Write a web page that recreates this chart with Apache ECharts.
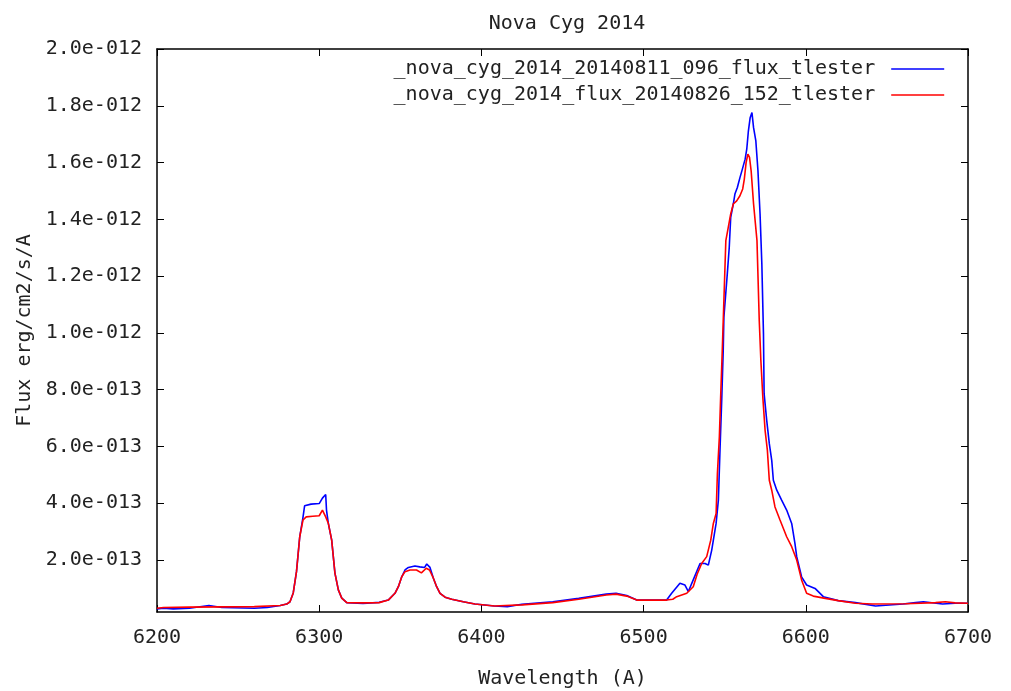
<!DOCTYPE html>
<html>
<head>
<meta charset="utf-8">
<title>Nova Cyg 2014</title>
<script src="https://cdn.jsdelivr.net/npm/echarts@6/dist/echarts.min.js"></script>
<style>
  html, body { margin: 0; padding: 0; background: #fff; }
  #chart { width: 1011px; height: 691px; }
</style>
</head>
<body>
<div id="chart"></div>
<script>
// Flux values are given in units of 1e-13 erg/cm2/s/A.
const FLUX_UNIT = 1e-13;

const seriesNames = [
  '_nova_cyg_2014_20140811_096_flux_tlester',
  '_nova_cyg_2014_flux_20140826_152_tlester'
];

// Spectrum of 2014-08-11
const wave0811 = [
  6200, 6204, 6210, 6220, 6232, 6240, 6260, 6268, 6276, 6280,
  6282, 6284, 6286, 6288, 6290, 6291, 6295, 6300, 6302, 6304,
  6304.5, 6305.6, 6307.7, 6309.7, 6311.8, 6313.9, 6317, 6327, 6337, 6342.6,
  6346.7, 6348.8, 6350.9, 6352.9, 6355, 6359, 6362, 6365, 6366.3, 6368.3,
  6370.4, 6372.4, 6374.5, 6377.6, 6381.7, 6388.8, 6396, 6408, 6416, 6425,
  6444, 6460, 6477, 6483, 6489.6, 6495.8, 6514.2, 6517.3, 6522.4, 6525.5,
  6527.6, 6530.6, 6534.8, 6537.9, 6539.9, 6542, 6544.7, 6546.1, 6547.1, 6548.2,
  6549.1, 6549.5, 6551.6, 6552.8, 6553.7, 6555.3, 6556.3, 6557.8, 6559.4, 6560.9,
  6562.6, 6563.6, 6564.6, 6565.7, 6566.8, 6567.8, 6569.2, 6570.5, 6571.8, 6572.9,
  6573.9, 6574.3, 6575.9, 6577.5, 6579, 6580, 6582.1, 6585.1, 6588.2, 6591.3,
  6593.3, 6594.4, 6597.4, 6600.5, 6605.7, 6610.8, 6620, 6630.6, 6643, 6660,
  6667.7, 6672.5, 6684.3, 6692, 6700
];
const flux0811 = [
  0.28, 0.30, 0.28, 0.30, 0.40, 0.33, 0.30, 0.33, 0.40, 0.45,
  0.53, 0.84, 1.59, 2.82, 3.50, 3.91, 3.97, 3.99, 4.18, 4.31,
  3.76, 3.30, 2.70, 1.54, 0.95, 0.66, 0.50, 0.47, 0.51, 0.59,
  0.83, 1.06, 1.41, 1.65, 1.74, 1.79, 1.76, 1.74, 1.86, 1.74,
  1.36, 1.06, 0.83, 0.69, 0.62, 0.53, 0.45, 0.38, 0.36, 0.44,
  0.53, 0.65, 0.80, 0.83, 0.75, 0.59, 0.59, 0.83, 1.18, 1.12,
  0.89, 1.30, 1.88, 1.88, 1.82, 2.35, 3.29, 4.11, 5.87, 7.70,
  9.40, 10.55, 12.08, 13.01, 14.07, 14.54, 14.89, 15.12, 15.47, 15.77,
  16.12, 16.47, 17.11, 17.58, 17.76, 17.23, 16.76, 15.71, 14.19, 12.43,
  9.97, 7.86, 6.92, 6.10, 5.51, 4.81, 4.46, 4.11, 3.76, 3.29,
  2.59, 2.12, 1.41, 1.12, 1.00, 0.71, 0.57, 0.50, 0.38, 0.45,
  0.50, 0.53, 0.45, 0.48, 0.48
];

// Spectrum of 2014-08-26
const wave0826 = [
  6200, 6204, 6220, 6240, 6260, 6276, 6280, 6282, 6284, 6286,
  6288, 6290, 6292, 6296, 6300, 6302, 6304, 6305.6, 6307.7, 6309.7,
  6311.8, 6313.9, 6317, 6327, 6337, 6342.6, 6346.7, 6348.8, 6350.9, 6352.9,
  6356, 6360, 6363, 6366, 6368, 6370.4, 6372.4, 6374.5, 6377.6, 6381.7,
  6388.8, 6396, 6408, 6425, 6444, 6460, 6477, 6483, 6489.6, 6495.8,
  6514.2, 6518, 6520.4, 6526.6, 6530.6, 6533, 6535.8, 6538.9, 6541.4, 6543,
  6544.7, 6545.5, 6546.7, 6547.5, 6548.5, 6549.5, 6550.7, 6552.2, 6553.7, 6555.3,
  6557.4, 6559.4, 6561.1, 6562.1, 6563.2, 6564.3, 6565.3, 6566.3, 6567.8, 6569.9,
  6571.3, 6572.3, 6573.5, 6574.9, 6576.3, 6577.5, 6579, 6581, 6584.1, 6588.2,
  6591.3, 6594.4, 6597.4, 6600.5, 6604.6, 6612, 6620, 6630.6, 6641, 6661.5,
  6680, 6686, 6692, 6700
];
const flux0826 = [
  0.30, 0.33, 0.34, 0.35, 0.36, 0.40, 0.45, 0.53, 0.84, 1.59,
  2.82, 3.41, 3.52, 3.54, 3.56, 3.76, 3.52, 3.30, 2.70, 1.54,
  0.95, 0.66, 0.50, 0.49, 0.50, 0.59, 0.83, 1.06, 1.41, 1.59,
  1.65, 1.65, 1.55, 1.71, 1.65, 1.36, 1.06, 0.83, 0.69, 0.62,
  0.53, 0.45, 0.38, 0.42, 0.50, 0.62, 0.77, 0.80, 0.73, 0.59,
  0.59, 0.62, 0.71, 0.83, 1.06, 1.50, 1.88, 2.12, 2.70, 3.29,
  3.64, 5.05, 6.33, 7.74, 9.38, 11.14, 13.25, 13.72, 14.19, 14.54,
  14.65, 14.83, 15.07, 15.42, 16.00, 16.30, 16.18, 15.71, 14.54, 13.25,
  10.44, 9.03, 7.74, 6.57, 5.87, 4.81, 4.46, 3.87, 3.41, 2.82,
  2.47, 2.00, 1.30, 0.83, 0.73, 0.65, 0.57, 0.48, 0.45, 0.46,
  0.50, 0.53, 0.49, 0.48
];

// Axis ranges and tick values
const xMin = 6200, xMax = 6700, xStep = 100;
const yMin = 0.17 * FLUX_UNIT, yMax = 20 * FLUX_UNIT;
const yTickValues = [2, 4, 6, 8, 10, 12, 14, 16, 18, 20].map(v => v * FLUX_UNIT);

// gnuplot-style exponent with three digits, e.g. 2.0e-012
function fmtExp(v) {
  const s = Number(v).toExponential(1);
  return s.replace(/e([+-])(\d+)$/, (m, sign, d) => 'e' + sign + d.padStart(3, '0'));
}

function pairs(xs, ys) {
  return xs.map((x, i) => [x, ys[i] * FLUX_UNIT]);
}

const FONT = 'DejaVu Sans Mono';
const FS = 20;
const TXT = '#222';

const chart = echarts.init(document.getElementById('chart'), null, { renderer: 'canvas' });

const tickCommon = { inside: true, length: 7, lineStyle: { color: '#000', width: 1 } };
const lineCommon = { show: true, onZero: false, lineStyle: { color: '#000', width: 1.5 } };

chart.setOption({
  animation: false,
  backgroundColor: '#fff',
  textStyle: { fontFamily: FONT, color: TXT },
  title: {
    text: 'Nova Cyg 2014',
    left: 562, top: 9, textAlign: 'center',
    textStyle: { fontFamily: FONT, fontSize: FS, fontWeight: 'normal', color: TXT }
  },
  legend: {
    orient: 'vertical',
    right: 61, top: 54,
    align: 'right',
    itemWidth: 53, itemHeight: 14, itemGap: 6,
    itemStyle: { opacity: 0 },
    lineStyle: { width: 1.6 },
    textStyle: { fontFamily: FONT, fontSize: FS, color: TXT, padding: [0, 11, 0, 0] },
    data: seriesNames
  },
  grid: {
    left: 157, right: 43, top: 49, bottom: 79,
    containLabel: false, outerBoundsMode: 'none'
  },
  xAxis: [
    {
      type: 'value', min: xMin, max: xMax, interval: xStep, position: 'bottom',
      name: 'Wavelength (A)', nameLocation: 'middle', nameGap: 57,
      nameTextStyle: { fontFamily: FONT, fontSize: FS, color: TXT },
      axisLine: lineCommon, axisTick: tickCommon,
      axisLabel: { fontFamily: FONT, fontSize: FS, color: TXT, margin: 16, formatter: v => String(v) },
      splitLine: { show: false }
    },
    {
      type: 'value', min: xMin, max: xMax, interval: xStep, position: 'top',
      axisLine: lineCommon, axisTick: tickCommon,
      axisLabel: { show: false }, splitLine: { show: false }
    }
  ],
  yAxis: [
    {
      type: 'value', min: yMin, max: yMax, position: 'left',
      name: 'Flux erg/cm2/s/A', nameLocation: 'middle', nameGap: 121, nameRotate: 90,
      nameTextStyle: { fontFamily: FONT, fontSize: FS, color: TXT },
      axisLine: lineCommon,
      axisTick: Object.assign({ customValues: yTickValues }, tickCommon),
      axisLabel: {
        customValues: yTickValues, formatter: fmtExp,
        fontFamily: FONT, fontSize: FS, color: TXT, margin: 15
      },
      splitLine: { show: false }
    },
    {
      type: 'value', min: yMin, max: yMax, position: 'right',
      axisLine: lineCommon,
      axisTick: Object.assign({ customValues: yTickValues }, tickCommon),
      axisLabel: { show: false }, splitLine: { show: false }
    }
  ],
  series: [
    {
      name: seriesNames[0], type: 'line', xAxisIndex: 0, yAxisIndex: 0,
      data: pairs(wave0811, flux0811), symbol: 'none',
      lineStyle: { color: '#0000ff', width: 1.6 }, itemStyle: { color: '#0000ff' }
    },
    {
      name: seriesNames[1], type: 'line', xAxisIndex: 0, yAxisIndex: 0,
      data: pairs(wave0826, flux0826), symbol: 'none',
      lineStyle: { color: '#ff0000', width: 1.6 }, itemStyle: { color: '#ff0000' }
    }
  ]
});
</script>
</body>
</html>
